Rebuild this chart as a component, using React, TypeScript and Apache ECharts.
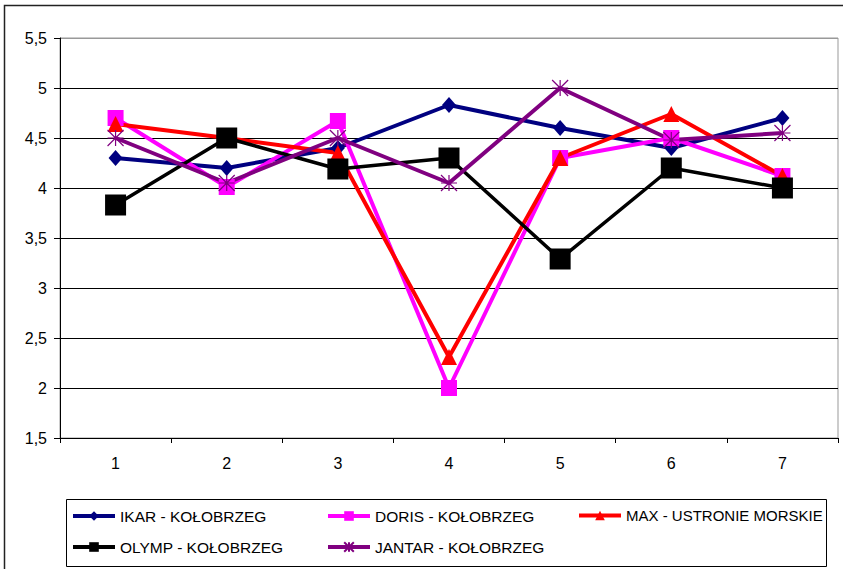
import React, { useEffect, useRef } from "react";
import * as echarts from "echarts";

const categories = ["1", "2", "3", "4", "5", "6", "7"];
const ikar = [4.3, 4.2, 4.4, 4.83, 4.6, 4.4, 4.7];
const doris = [4.7, 4.01, 4.67, 2.0, 4.3, 4.5, 4.12];
const max = [4.64, 4.5, 4.35, 2.31, 4.3, 4.74, 4.12];
const olymp = [3.83, 4.5, 4.19, 4.3, 3.29, 4.2, 4.0];
const jantar = [4.5, 4.05, 4.5, 4.05, 5.0, 4.48, 4.55];

const names = [
  "IKAR - KOŁOBRZEG",
  "DORIS - KOŁOBRZEG",
  "MAX - USTRONIE MORSKIE",
  "OLYMP - KOŁOBRZEG",
  "JANTAR - KOŁOBRZEG",
];

const FONT = "'Liberation Sans', Arial, sans-serif";
const STAR = "path://M0,0L10,10M10,0L0,10M5,0L5,10M0,5L10,5";

export default function App() {
  const ref = useRef<HTMLDivElement>(null);

  useEffect(() => {
    if (!ref.current) return;
    const chart = echarts.init(ref.current, undefined, { renderer: "svg" });

    const legendPos = [
      { left: 71, top: 508, size: 15.5 },
      { left: 326, top: 508, size: 15.5 },
      { left: 577, top: 508, size: 15 },
      { left: 71, top: 539, size: 15.5 },
      { left: 326, top: 539, size: 15.5 },
    ];

    chart.setOption({
      animation: false,
      backgroundColor: "#ffffff",
      textStyle: { fontFamily: FONT },
      graphic: [
        {
          type: "rect",
          shape: { x: 4.5, y: 5.5, width: 900, height: 600 },
          style: { fill: "none", stroke: "#222", lineWidth: 1.5 },
          z: -1,
        },
        {
          type: "rect",
          shape: { x: 66.5, y: 499.5, width: 760, height: 67 },
          style: { fill: "#fff", stroke: "#000", lineWidth: 1 },
          z: -1,
        },
      ],
      legend: names.map((n, i) => ({
        data: [n],
        left: legendPos[i].left,
        top: legendPos[i].top,
        itemWidth: 42,
        itemHeight: 12,
        padding: 0,
        lineStyle: { width: 4 },
        textStyle: { fontFamily: FONT, fontSize: legendPos[i].size, color: "#000" },
      })),
      grid: { left: 60, right: 5, top: 38, height: 400, show: true, borderColor: "#999", borderWidth: 1 },
      xAxis: {
        type: "category",
        data: categories,
        boundaryGap: true,
        axisLine: { lineStyle: { color: "#000", width: 1 } },
        axisTick: { show: true, alignWithLabel: false, length: 5, lineStyle: { color: "#000" } },
        axisLabel: { color: "#000", fontSize: 16, fontFamily: FONT, margin: 17 },
        splitLine: { show: false },
      },
      yAxis: {
        type: "value",
        min: 1.5,
        max: 5.5,
        interval: 0.5,
        axisLine: { show: true, lineStyle: { color: "#000", width: 1 } },
        axisTick: { show: true, length: 6, lineStyle: { color: "#000" } },
        axisLabel: {
          color: "#000",
          fontSize: 16,
          fontFamily: FONT,
          margin: 13,
          formatter: (v: number) => String(v).replace(".", ","),
        },
        splitLine: {
          show: true,
          lineStyle: { color: ["#000", "#000", "#000", "#000", "#000", "#000", "#000", "#000", "#999"], width: 1 },
        },
      },
      series: [
        {
          name: names[0],
          type: "line",
          data: ikar,
          symbol: "diamond",
          symbolSize: [14, 16],
          lineStyle: { color: "#000080", width: 4 },
          itemStyle: { color: "#000080" },
        },
        {
          name: names[1],
          type: "line",
          data: doris,
          symbol: "rect",
          symbolSize: 16,
          lineStyle: { color: "#ff00ff", width: 4 },
          itemStyle: { color: "#ff00ff" },
        },
        {
          name: names[2],
          type: "line",
          data: max,
          symbol: "triangle",
          symbolSize: 16,
          lineStyle: { color: "#ff0000", width: 4 },
          itemStyle: { color: "#ff0000" },
        },
        {
          name: names[3],
          type: "line",
          data: olymp,
          symbol: "rect",
          symbolSize: 21,
          lineStyle: { color: "#000000", width: 3.5 },
          itemStyle: { color: "#000000" },
        },
        {
          name: names[4],
          type: "line",
          data: jantar,
          symbol: STAR,
          symbolSize: 16,
          lineStyle: { color: "#800080", width: 4 },
          itemStyle: { color: "#800080", borderColor: "#800080", borderWidth: 1.2 },
        },
      ],
    });

    return () => chart.dispose();
  }, []);

  return <div ref={ref} style={{ width: 843, height: 569, position: "absolute", left: 0, top: 0 }} />;
}
